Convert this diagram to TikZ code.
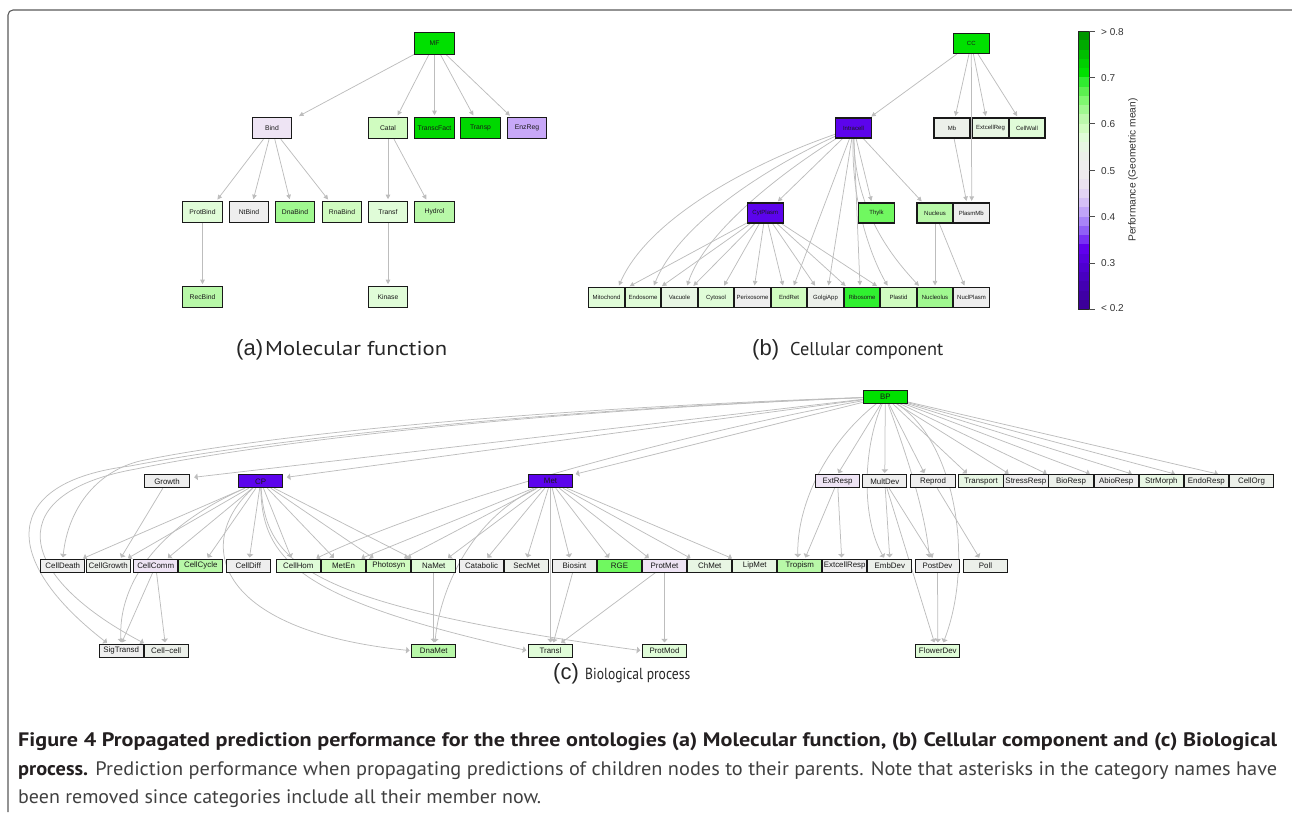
\documentclass[tikz,border=0pt]{standalone}
\usepackage{fontspec}
\usepackage{graphicx}
\setmainfont{Liberation Sans}
\newfontfamily\capfont{PT Sans}
\usetikzlibrary{arrows.meta}
\pgfdeclarelayer{bg}
\pgfsetlayers{bg,main}
\definecolor{egray}{HTML}{BDBDBD}
\definecolor{pG1}{HTML}{00E000}
\definecolor{pG2}{HTML}{00D800}
\definecolor{pG3}{HTML}{30F030}
\definecolor{pG4}{HTML}{70F860}
\definecolor{pG5}{HTML}{A0F890}
\definecolor{pG6}{HTML}{B8F8A8}
\definecolor{pG7}{HTML}{D0FCC0}
\definecolor{pG8}{HTML}{E0FCD8}
\definecolor{pG9}{HTML}{E8F6E4}
\definecolor{pGr}{HTML}{EEEEEE}
\definecolor{pGg}{HTML}{ECF0EA}
\definecolor{pL1}{HTML}{EEE4F4}
\definecolor{pL2}{HTML}{C8A8F8}
\definecolor{pP}{HTML}{5C04EC}
\definecolor{capbold}{HTML}{231F20}
\definecolor{captext}{HTML}{404040}
\begin{document}
\begin{tikzpicture}[x=1pt,y=-1pt,
  box/.style={draw=black!90, line width=1.05pt, inner sep=0pt, text=black!90},
  boxA/.style={box, minimum width=39.5pt, minimum height=21.5pt, font=\fontsize{6.8}{7}\selectfont},
  boxB/.style={box, minimum width=36pt, minimum height=20pt, font=\fontsize{6}{6}\selectfont},
  boxC/.style={box, minimum width=44.3pt, minimum height=12.7pt, font=\fontsize{7.9}{8}\selectfont},
  ed/.style={draw=egray, line width=0.75pt, -{Triangle[width=4.5pt,length=4.5pt]}, shorten >=1.5pt},
  edc/.style={draw=egray, line width=0.75pt, -{Triangle[width=6.5pt,length=3.5pt]}, shorten >=1.5pt},
  sublab/.style={anchor=base west, inner sep=0pt, text=black!85},
  tick/.style={anchor=west, inner sep=0pt, font=\fontsize{10}{10}\selectfont, text=black!80}
]
\useasboundingbox (0,0) rectangle (1292,812);
% frame
\draw[black!65, line width=1.1pt, rounded corners=5pt] (1292,10) -- (8,10) -- (8,812);

% ---------------- (a) Molecular function
\node[boxA, fill=pG1] (MF) at (434.5,43.5) {MF};
\node[boxA, fill=pL1] (Bind) at (272,128) {Bind};
\node[boxA, fill=pG7] (Catal) at (388,128) {Catal};
\node[boxA, fill=pG2] (TranscFact) at (434.5,128) {TranscFact};
\node[boxA, fill=pG2] (Transp) at (480.5,128) {Transp};
\node[boxA, fill=pL2] (EnzReg) at (527,128) {EnzReg};
\node[boxA, fill=pG8] (ProtBind) at (202.5,212) {ProtBind};
\node[boxA, fill=pGr] (NtBind) at (249,212) {NtBind};
\node[boxA, fill=pG5] (DnaBind) at (295,212) {DnaBind};
\node[boxA, fill=pG7] (RnaBind) at (342,212) {RnaBind};
\node[boxA, fill=pG8] (Transf) at (388,212) {Transf};
\node[boxA, fill=pG6] (Hydrol) at (434.5,212) {Hydrol};
\node[boxA, fill=pG6] (RecBind) at (202.5,297) {RecBind};
\node[boxA, fill=pG8] (Kinase) at (388,297) {Kinase};
\begin{pgfonlayer}{bg}
\draw[ed] (MF) -- ([xshift=25.7pt]Bind.north);
\draw[ed] (MF) -- ([xshift=9pt]Catal.north);
\draw[ed] (MF) -- (TranscFact.north);
\draw[ed] (MF) -- ([xshift=-6.5pt]Transp.north);
\draw[ed] (MF) -- ([xshift=-16pt]EnzReg.north);
\draw[ed] (Bind) -- ([xshift=14pt]ProtBind.north);
\draw[ed] (Bind) -- ([xshift=4pt]NtBind.north);
\draw[ed] (Bind) -- ([xshift=-5pt]DnaBind.north);
\draw[ed] (Bind) -- ([xshift=-13pt]RnaBind.north);
\draw[ed] (Catal) -- (Transf.north);
\draw[ed] (Catal) -- ([xshift=-7.5pt]Hydrol.north);
\draw[ed] (ProtBind) -- (RecBind.north);
\draw[ed] (Transf) -- (Kinase.north);
\end{pgfonlayer}
\node[sublab] (labA) at (236,355) {\fontsize{22}{22}\selectfont(a)};
\node[sublab] (labAt) at (265,355) {\resizebox{182pt}{\height}{\capfont\fontsize{20}{20}\selectfont Molecular function}};

% ---------------- (b) Cellular component
\node[boxB, fill=pG1] (CC) at (971.3,43.5) {CC};
\node[boxB, fill=pP] (Intracell) at (853.5,128) {Intracell};
\node[boxB, fill=pGg] (Mb) at (952,128) {Mb};
\node[boxB, fill=pG9] (ExtcellReg) at (990.5,128) {ExtcellReg};
\node[boxB, fill=pG8] (CellWall) at (1027,128) {CellWall};
\node[boxB, fill=pP] (CytPlasm) at (765.3,213) {CytPlasm};
\node[boxB, fill=pG4] (Thylk) at (876.5,213) {Thylk};
\node[boxB, fill=pG6] (Nucleus) at (935,213) {Nucleus};
\node[boxB, fill=pGr] (PlasmMb) at (971.3,213) {PlasmMb};
\node[boxB, fill=pG8] (Mitochond) at (606.5,297.5) {Mitochond};
\node[boxB, fill=pG8] (Endosome) at (643,297.5) {Endosome};
\node[boxB, fill=pG9] (Vacuole) at (679.5,297.5) {Vacuole};
\node[boxB, fill=pG8] (Cytosol) at (716,297.5) {Cytosol};
\node[boxB, fill=pGr] (Perixosome) at (752.5,297.5) {Perixosome};
\node[boxB, fill=pG7] (EndRet) at (789,297.5) {EndRet};
\node[boxB, fill=pGg] (GolgiApp) at (825.5,297.5) {GolgiApp};
\node[boxB, fill=pG3] (Ribosome) at (862,297.5) {Ribosome};
\node[boxB, fill=pG7] (Plastid) at (898.5,297.5) {Plastid};
\node[boxB, fill=pG5] (Nucleolus) at (935,297.5) {Nucleolus};
\node[boxB, fill=pGr] (NuclPlasm) at (971.5,297.5) {NuclPlasm};
\begin{pgfonlayer}{bg}
\draw[ed] (CC) -- ([xshift=16.5pt]Intracell.north);
\draw[ed] (CC) -- ([xshift=3pt]Mb.north);
\draw[ed] (CC) -- ([xshift=0.4pt]PlasmMb.north);
\draw[ed] (CC) -- ([xshift=-4.5pt]ExtcellReg.north);
\draw[ed] (CC) -- ([xshift=-9pt]CellWall.north);
\draw[ed] (Mb) -- ([xshift=-4.6pt]PlasmMb.north);
\draw[ed] (Intracell) -- ([xshift=11.4pt]CytPlasm.north);
\draw[ed] (Intracell) -- ([xshift=-4.8pt]Thylk.north);
\draw[ed] (Intracell) -- ([xshift=-12.3pt]Nucleus.north);
\draw[ed] (Intracell) .. controls (760,160) and (650,215) .. ([xshift=11.8pt]Mitochond.north);
\draw[ed] (Intracell) .. controls (770,166) and (680,222) .. ([xshift=10.3pt]Endosome.north);
\draw[ed] (Intracell) .. controls (782,172) and (705,232) .. ([xshift=7.2pt]Vacuole.north);
\draw[ed] (Intracell) -- ([xshift=4.3pt]EndRet.north);
\draw[ed] (Intracell) -- ([xshift=2.8pt]GolgiApp.north);
\draw[ed] (Intracell) -- ([xshift=-2pt]Ribosome.north);
\draw[ed] (Intracell) .. controls (851,200) and (870,255) .. ([xshift=-10.2pt]Plastid.north);
\draw[ed] (Intracell) .. controls (855,212) and (893,258) .. ([xshift=-15pt]Nucleolus.north);
\draw[ed] (CytPlasm) -- ([xshift=21.8pt]Mitochond.north);
\draw[ed] (CytPlasm) -- ([xshift=17.7pt]Endosome.north);
\draw[ed] (CytPlasm) -- ([xshift=12.8pt]Vacuole.north);
\draw[ed] (CytPlasm) -- ([xshift=7.3pt]Cytosol.north);
\draw[ed] (CytPlasm) -- ([xshift=1.8pt]Perixosome.north);
\draw[ed] (CytPlasm) -- ([xshift=-5.7pt]EndRet.north);
\draw[ed] (CytPlasm) -- ([xshift=-9.5pt]GolgiApp.north);
\draw[ed] (CytPlasm) -- ([xshift=-15.3pt]Ribosome.north);
\draw[ed] (CytPlasm) -- ([xshift=-20.2pt]Plastid.north);
\draw[ed] (Nucleus) -- (Nucleolus.north);
\draw[ed] (Nucleus) -- ([xshift=-6.5pt]NuclPlasm.north);
\end{pgfonlayer}
\node[sublab] (labB) at (752,355) {\fontsize{22}{22}\selectfont(b)};
\node[sublab] (labBt) at (790,355) {\resizebox{153pt}{\height}{\capfont\fontsize{18.5}{18.5}\selectfont Cellular component}};

% ---------------- colour bar
\foreach \hx [count=\i from 0] in {3C0099,3F00A5,4300B2,4800C0,4E00CF,5600DE,6000EE,7830F4,9060F6,A884F8,C0A4F8,D4C0F6,E2D4F4,EAE2F0,EEEAEE,EEEEEE,ECF0EA,E8F6E4,E0FCD8,D0FCC0,BCF8AC,A0F890,80F870,5CF050,30EC30,00E000,00D000,00BE00,00AA00,009600}{
  \edef\cbdef{\noexpand\definecolor{cbtmp}{HTML}{\hx}}\cbdef
  \fill[cbtmp] (1078.3,{309.3-(\i+1)*9.277-0.4}) rectangle (1089.3,{309.3-\i*9.277});
}
\draw[black!85, line width=0.8pt] (1078.3,31) rectangle (1089.3,309.3);
\foreach \k in {0,...,6}{
  \draw[black!70, line width=0.8pt] (1089.3,{31+\k*46.38}) -- (1095,{31+\k*46.38});
}
\node[tick] (t8) at (1101,32) {> 0.8};
\node[tick] (t7) at (1101,78) {0.7};
\node[tick] (t6) at (1101,124.5) {0.6};
\node[tick] (t5) at (1101,170.7) {0.5};
\node[tick] (t4) at (1101,216.7) {0.4};
\node[tick] (t3) at (1101,263) {0.3};
\node[tick] (t2) at (1101,308.5) {< 0.2};
\node[rotate=90, font=\fontsize{10.2}{10}\selectfont, text=black!80, inner sep=0pt] (cbtitle) at (1133,170) {Performance (Geometric mean)};

% ---------------- (c) Biological process
\node[boxC, fill=pG1] (BP) at (885.3,396.7) {BP};
\node[boxC, fill=pGr] (Growth) at (167,481.3) {Growth};
\node[boxC, fill=pP] (CP) at (260.7,481.3) {CP};
\node[boxC, fill=pP] (Met) at (550.5,481.3) {Met};
\node[boxC, fill=pL1] (ExtResp) at (837.5,481.3) {ExtResp};
\node[boxC, fill=pGr] (MultDev) at (884.8,481.3) {MultDev};
\node[boxC, fill=pGr] (Reprod) at (933,481.3) {Reprod};
\node[boxC, fill=pG9] (Transport) at (981,481.3) {Transport};
\node[boxC, fill=pGr] (StressResp) at (1025.9,481.3) {StressResp};
\node[boxC, fill=pGg] (BioResp) at (1071,481.3) {BioResp};
\node[boxC, fill=pGr] (AbioResp) at (1116.2,481.3) {AbioResp};
\node[boxC, fill=pG9] (StrMorph) at (1161.3,481.3) {StrMorph};
\node[boxC, fill=pGg] (EndoResp) at (1206.4,481.3) {EndoResp};
\node[boxC, fill=pGg] (CellOrg) at (1251.5,481.3) {CellOrg};
\node[boxC, fill=pGr] (CellDeath) at (62.8,565.8) {CellDeath};
\node[boxC, fill=pGg] (CellGrowth) at (108.2,565.8) {CellGrowth};
\node[boxC, fill=pL1] (CellComm) at (155.7,565.8) {CellComm};
\node[boxC, fill=pG6] (CellCycle) at (200.8,565.8) {CellCycle};
\node[boxC, fill=pGr] (CellDiff) at (248.3,565.8) {CellDiff};
\node[boxC, fill=pG8] (CellHom) at (298.3,565.8) {CellHom};
\node[boxC, fill=pG7] (MetEn) at (343.5,565.8) {MetEn};
\node[boxC, fill=pG7] (Photosyn) at (388.8,565.8) {Photosyn};
\node[boxC, fill=pG8] (NaMet) at (433.8,565.8) {NaMet};
\node[boxC, fill=pGr] (Catabolic) at (481.5,565.8) {Catabolic};
\node[boxC, fill=pGg] (SecMet) at (526.7,565.8) {SecMet};
\node[boxC, fill=pGr] (Biosint) at (574.5,565.8) {Biosint};
\node[boxC, fill=pG4] (RGE) at (619.5,565.8) {RGE};
\node[boxC, fill=pL1] (ProtMet) at (664.5,565.8) {ProtMet};
\node[boxC, fill=pG9] (ChMet) at (709.8,565.8) {ChMet};
\node[boxC, fill=pG9] (LipMet) at (754.8,565.8) {LipMet};
\node[boxC, fill=pG6] (Tropism) at (799.8,565.8) {Tropism};
\node[boxC, fill=pGr] (ExtcellResp) at (844.7,565.8) {ExtcellResp};
\node[boxC, fill=pGg] (EmbDev) at (889.8,565.8) {EmbDev};
\node[boxC, fill=pGr] (PostDev) at (937.5,565.8) {PostDev};
\node[boxC, fill=pGg] (Poll) at (985.5,565.8) {Poll};
\node[boxC, fill=pGr] (SigTransd) at (121.2,650.7) {SigTransd};
\node[boxC, fill=pGg] (CellCell) at (166.2,650.7) {Cell−cell};
\node[boxC, fill=pG6] (DnaMet) at (433.8,650.7) {DnaMet};
\node[boxC, fill=pG8] (Transl) at (550.5,650.7) {Transl};
\node[boxC, fill=pG8] (ProtMod) at (664.5,650.7) {ProtMod};
\node[boxC, fill=pG8] (FlowerDev) at (937.8,650.7) {FlowerDev};
\begin{pgfonlayer}{bg}
% BP to the left
\draw[edc] (BP) .. controls (500,412) and (250,443) .. (130,466) .. controls (0,482) and (0,560) .. ([xshift=-13pt]SigTransd.north);
\draw[edc] (BP) .. controls (500,413) and (250,445) .. (136,469) .. controls (5,492) and (10,572) .. ([xshift=-21pt]CellCell.north);
\draw[edc] (BP) .. controls (500,410) and (250,438) .. (140,461) .. controls (95,472) and (68,510) .. (CellDeath.north);
\draw[edc] (BP) -- ([xshift=3pt,yshift=-3pt]Growth.north east);
\draw[edc] (BP) -- ([xshift=2pt,yshift=-3pt]CP.north east);
\draw[edc] (BP) -- ([xshift=1pt]Met.north east);
\draw[edc] (BP) .. controls (700,430) and (450,495) .. ([xshift=16.7pt]CellHom.north);
% BP to the right
\draw[edc] (BP) -- (ExtResp.north);
\draw[edc] (BP) -- (MultDev.north);
\draw[edc] (BP) -- ([xshift=-8pt]Reprod.north);
\draw[edc] (BP) -- ([xshift=-13pt]Transport.north);
\draw[edc] (BP) -- ([xshift=-16pt]StressResp.north);
\draw[edc] (BP) -- ([xshift=-23pt]BioResp.north);
\draw[edc] (BP) -- ([xshift=-25pt]AbioResp.north);
\draw[edc] (BP) -- ([xshift=-28pt]StrMorph.north);
\draw[edc] (BP) -- ([xshift=-30pt]EndoResp.north);
\draw[edc] (BP) -- ([xshift=-32pt]CellOrg.north);
\draw[edc] (BP) .. controls (830,440) and (797,500) .. ([xshift=-2pt]Tropism.north);
\draw[edc] (BP) .. controls (862,450) and (862,520) .. ([xshift=-5pt]EmbDev.north);
\draw[edc] (BP) .. controls (905,450) and (925,510) .. ([xshift=-8pt]PostDev.north);
\draw[edc] (BP) .. controls (955,440) and (975,560) .. ([xshift=5pt]FlowerDev.north);
% Growth, CP
\draw[edc] (Growth) -- ([xshift=12pt]CellGrowth.north);
\draw[edc] (CP) -- ([xshift=19pt]CellDeath.north);
\draw[edc] (CP) -- ([xshift=18.5pt]CellGrowth.north);
\draw[edc] (CP) -- ([xshift=11pt]CellComm.north);
\draw[edc] (CP) -- ([xshift=6pt]CellCycle.north);
\draw[edc] (CP) -- ([xshift=1pt]CellDiff.north);
\draw[edc] (CP) -- ([xshift=-6.6pt]CellHom.north);
\draw[edc] (CP) -- ([xshift=-8.5pt]MetEn.north);
\draw[edc] (CP) -- ([xshift=-14pt]Photosyn.north);
\draw[edc] (CP) -- ([xshift=-21pt]NaMet.north);
\draw[edc] (CP) .. controls (150,530) and (118,590) .. (SigTransd.north);
\draw[edc] (CP) .. controls (195,540) and (210,630) .. (DnaMet.west);
\draw[edc] (CP) .. controls (262,560) and (300,600) .. (Transl.west);
\draw[edc] (CP) .. controls (266,565) and (310,605) .. (ProtMod.west);
\draw[edc] (CellComm) -- (SigTransd.north);
\draw[edc] (CellComm) -- ([xshift=-1pt]CellCell.north);
% Met
\draw[edc] (Met) -- ([xshift=16.5pt]MetEn.north);
\draw[edc] (Met) -- ([xshift=14pt]Photosyn.north);
\draw[edc] (Met) -- ([xshift=13pt]NaMet.north);
\draw[edc] (Met) -- ([xshift=5pt]Catabolic.north);
\draw[edc] (Met) -- (SecMet.north);
\draw[edc] (Met) -- ([xshift=-4.5pt]Biosint.north);
\draw[edc] (Met) -- ([xshift=-9.5pt]RGE.north);
\draw[edc] (Met) -- ([xshift=-14.5pt]ProtMet.north);
\draw[edc] (Met) -- ([xshift=-18pt]ChMet.north);
\draw[edc] (Met) -- ([xshift=-21.5pt]LipMet.north);
\draw[edc] (Met) -- (Transl.north);
\draw[edc] (Met) .. controls (470,520) and (440,590) .. ([xshift=1pt]DnaMet.north);
\draw[edc] (NaMet) -- (DnaMet.north);
\draw[edc] (Biosint) -- ([xshift=2.5pt]Transl.north);
\draw[edc] (ProtMet) -- ([xshift=9.5pt]Transl.north);
\draw[edc] (ProtMet) -- (ProtMod.north);
% right part
\draw[edc] (ExtResp) -- ([xshift=5pt]Tropism.north);
\draw[edc] (ExtResp) -- ([xshift=-3pt]ExtcellResp.north);
\draw[edc] (MultDev) -- (EmbDev.north);
\draw[edc] (MultDev) -- ([xshift=-4pt]PostDev.north);
\draw[edc] (MultDev) -- ([xshift=-3pt]FlowerDev.north);
\draw[edc] (Reprod) -- ([xshift=-5.5pt]Poll.north);
\draw[edc] (PostDev) -- (FlowerDev.north);
\end{pgfonlayer}
\node[sublab] (labC) at (553,679) {\fontsize{22}{22}\selectfont(c)};
\node[sublab] (labCt) at (585,679) {\resizebox{105pt}{\height}{\capfont\fontsize{16}{16}\selectfont Biological process}};

% ---------------- caption
\node[anchor=base west, inner sep=0pt, text=capbold] (cap1) at (18,746)
  {\resizebox{1259pt}{\height}{\capfont\bfseries\fontsize{19.5}{20}\selectfont Figure 4 Propagated prediction performance for the three ontologies (a) Molecular function, (b) Cellular component and (c) Biological}};
\node[anchor=base west, inner sep=0pt, text=captext] (cap2) at (18,775)
  {\resizebox{1259pt}{\height}{\capfont\fontsize{19.5}{20}\selectfont\textcolor{capbold}{\bfseries process.} Prediction performance when propagating predictions of children nodes to their parents. Note that asterisks in the category names have}};
\node[anchor=base west, inner sep=0pt, text=captext] (cap3) at (18,803)
  {\resizebox{523pt}{\height}{\capfont\fontsize{19.5}{20}\selectfont been removed since categories include all their member now.}};
\end{tikzpicture}
\end{document}
